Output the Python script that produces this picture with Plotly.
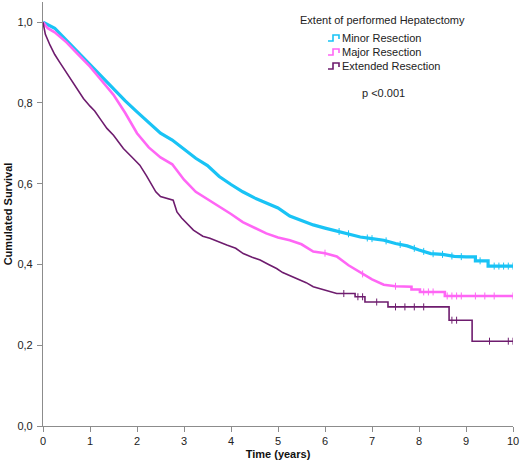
import numpy as np
import plotly.graph_objects as go

# Kaplan-Meier estimates
minor_t = [0, 0.25, 0.5, 0.75, 1.0, 1.25, 1.5, 1.75, 2.0, 2.25, 2.5, 2.75, 3.0, 3.25, 3.5,
           3.75, 4.0, 4.25, 4.5, 4.75, 5.0, 5.25, 5.5, 5.75, 6.0, 6.25, 6.5, 6.75, 7.0,
           7.25, 7.5, 7.75, 8.0, 8.25, 8.5, 8.75, 9.0, 9.2, 9.2, 9.47, 9.47, 10.0]
minor_s = [1.0, 0.985, 0.955, 0.925, 0.895, 0.865, 0.835, 0.805, 0.778, 0.752, 0.725, 0.708,
           0.685, 0.663, 0.645, 0.618, 0.598, 0.58, 0.565, 0.553, 0.54, 0.52, 0.508, 0.498,
           0.49, 0.483, 0.476, 0.468, 0.464, 0.46, 0.452, 0.446, 0.436, 0.427, 0.425, 0.42,
           0.419, 0.419, 0.409, 0.409, 0.396, 0.396]

major_t = [0, 0.1, 0.25, 0.5, 0.75, 1.0, 1.25, 1.5, 1.75, 2.0, 2.25, 2.5, 2.75, 3.0, 3.25,
           3.5, 3.75, 4.0, 4.25, 4.5, 4.75, 5.0, 5.25, 5.5, 5.75, 6.0, 6.25, 6.5, 6.75, 7.0,
           7.25, 7.5, 7.84, 7.84, 8.02, 8.02, 8.55, 8.55, 10.0]
major_s = [1.0, 0.985, 0.975, 0.95, 0.92, 0.89, 0.855, 0.82, 0.775, 0.725, 0.69, 0.665,
           0.648, 0.61, 0.58, 0.562, 0.543, 0.525, 0.505, 0.49, 0.477, 0.467, 0.46, 0.45,
           0.432, 0.428, 0.42, 0.398, 0.38, 0.363, 0.35, 0.346, 0.345, 0.338, 0.338, 0.332,
           0.332, 0.322, 0.322]

ext_t = [0, 0.05, 0.15, 0.25, 0.36, 0.5, 0.64, 0.75, 0.86, 1.0, 1.1, 1.25, 1.36, 1.5, 1.71,
         1.9, 2.06, 2.2, 2.28, 2.4, 2.5, 2.77, 2.85, 2.95, 3.2, 3.4, 3.55, 3.75, 3.91, 4.1,
         4.26, 4.45, 4.62, 4.8, 4.97, 5.1, 5.4, 5.6, 5.75, 6.0, 6.25, 6.64, 6.64, 6.85,
         6.85, 7.34, 7.34, 8.64, 8.64, 9.13, 9.13, 10.0]
ext_s = [1.0, 0.97, 0.943, 0.92, 0.9, 0.875, 0.848, 0.83, 0.811, 0.792, 0.78, 0.755, 0.737,
         0.72, 0.687, 0.665, 0.646, 0.62, 0.605, 0.58, 0.568, 0.559, 0.53, 0.515, 0.485,
         0.47, 0.465, 0.455, 0.448, 0.44, 0.427, 0.418, 0.411, 0.4, 0.39, 0.38, 0.366,
         0.355, 0.345, 0.336, 0.328, 0.328, 0.32, 0.32, 0.307, 0.307, 0.295, 0.295, 0.262,
         0.262, 0.21, 0.21]

# censoring times (tick marks on the curves)
minor_cens = [6.3, 6.5, 6.9, 7.0, 7.3, 7.6, 7.9, 8.1, 8.3, 8.5, 8.7, 8.9, 9.3, 9.6, 9.7,
              9.8, 9.9, 10.0]
major_cens = [6.0, 6.8, 7.5, 8.1, 8.2, 8.3, 8.6, 8.7, 8.8, 8.9, 9.2, 9.4, 9.6, 10.0]
ext_cens = [6.4, 6.7, 6.8, 7.1, 7.5, 7.7, 7.9, 8.1, 8.7, 8.8, 9.5, 9.9, 10.0]

x_ticks = list(range(0, 11))
y_ticks = [0.0, 0.2, 0.4, 0.6, 0.8, 1.0]
y_tick_labels = ["0,0", "0,2", "0,4", "0,6", "0,8", "1,0"]

series = [
    ("Minor Resection", minor_t, minor_s, minor_cens, "#19c3f5", 3.2),
    ("Major Resection", major_t, major_s, major_cens, "#ff66f5", 2.6),
    ("Extended Resection", ext_t, ext_s, ext_cens, "#6e1c6e", 1.6),
]

FONT = "Liberation Sans, Arial, sans-serif"
fig = go.Figure()
for name, t, s, cens, color, w in series:
    fig.add_trace(go.Scatter(x=t, y=s, mode="lines", name=name, showlegend=False,
                             line=dict(color=color, width=w)))
    cy = np.interp(cens, t, s)
    fig.add_trace(go.Scatter(x=cens, y=cy, mode="markers", showlegend=False, hoverinfo="skip",
                             marker=dict(symbol="line-ns", size=5,
                                         line=dict(color=color, width=1))))

axis_common = dict(showgrid=False, zeroline=False, showline=True, linecolor="#8c8c8c",
                   linewidth=1.2, ticks="outside", ticklen=5, tickcolor="#8c8c8c",
                   automargin=False, tickfont=dict(family=FONT, size=11, color="#222"))
fig.update_xaxes(range=[0, 10], tickvals=x_ticks,
                 title=dict(text="<b>Time (years)</b>", font=dict(family=FONT, size=11, color="#111"),
                            standoff=4), **axis_common)
fig.update_yaxes(range=[0, 1.05], tickvals=y_ticks, ticktext=y_tick_labels, ticklabelstandoff=2,
                 title=dict(text="<b>Cumulated Survival</b>", font=dict(family=FONT, size=11, color="#111"),
                            standoff=2), **axis_common)

# manual legend (title, entries with step icons) and p-value
L = 43.0; W = 470.0; B = 426.0; H = 424.0
def px(x):
    return (x - L) / W
def py(y):
    return (B - y) / H

annotations = [dict(text="Extent of performed Hepatectomy", x=px(298), y=py(20), xref="paper",
                    yref="paper", showarrow=False, xanchor="left", yanchor="middle",
                    font=dict(family=FONT, size=11, color="#222")),
               dict(text="p <0.001", x=px(360), y=py(93), xref="paper", yref="paper",
                    showarrow=False, xanchor="left", yanchor="middle",
                    font=dict(family=FONT, size=11, color="#222"))]
shapes = []
for i, (name, t, s, cens, color, w) in enumerate(series):
    cyp = 38 + 14 * i
    annotations.append(dict(text=name, x=px(340), y=py(cyp), xref="paper", yref="paper",
                            showarrow=False, xanchor="left", yanchor="middle",
                            font=dict(family=FONT, size=11, color="#222")))
    path = (f"M {px(328)},{py(cyp + 3)} L {px(333)},{py(cyp + 3)} L {px(333)},{py(cyp - 3)} "
            f"L {px(339)},{py(cyp - 3)} L {px(339)},{py(cyp + 1)}")
    shapes.append(dict(type="path", path=path, xref="paper", yref="paper",
                       line=dict(color=color, width=1.6)))

fig.update_layout(
    width=520, height=466,
    margin=dict(l=43, r=7, t=2, b=40),
    plot_bgcolor="white", paper_bgcolor="white",
    font=dict(family=FONT, size=11, color="#222"),
    annotations=annotations, shapes=shapes,
)

fig.write_html("out.html", config={"displayModeBar": False},
               post_script="document.body.style.margin='0';document.body.style.padding='0';"
                           "document.body.style.overflow='hidden';")
